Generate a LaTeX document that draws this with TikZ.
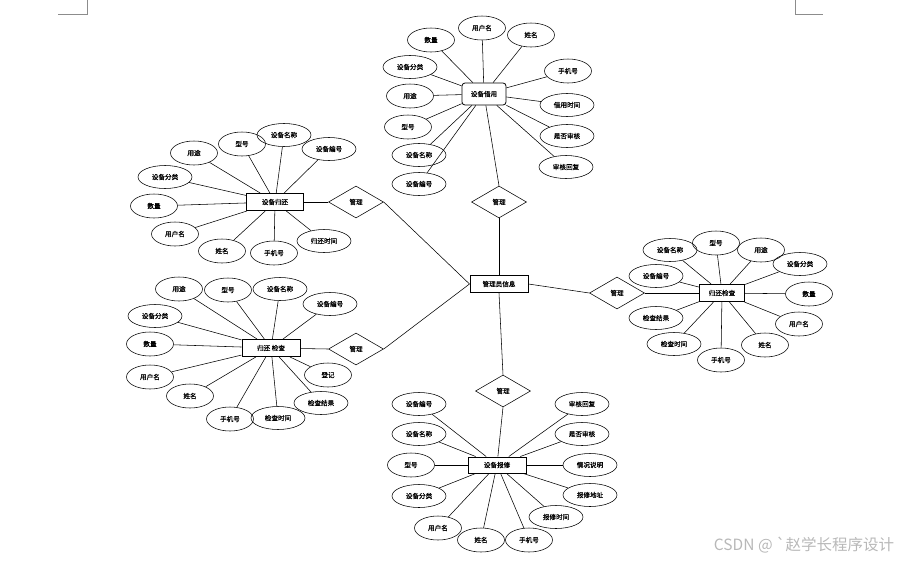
\documentclass[tikz,border=0pt]{standalone}
\usepackage{fontspec}
\newfontfamily\cjk{Noto Sans CJK SC}[FakeBold=0.6]
\newfontfamily\cjkw{Noto Sans CJK SC}
\usetikzlibrary{shapes.geometric}
\begin{document}
\begin{tikzpicture}[x=1pt,y=-1pt,
  line width=0.55pt,
  attr/.style={ellipse, draw, minimum width=47pt, minimum height=24pt, inner sep=0pt, font=\cjk\fontsize{6.6}{7}\selectfont},
  wattr/.style={attr, minimum width=54pt, minimum height=23pt},
  ent/.style={rectangle, draw, line width=1pt, minimum width=57pt, minimum height=17pt, inner sep=0pt, font=\cjk\fontsize{6.6}{7}\selectfont},
  rel/.style={diamond, draw, aspect=1.7, minimum width=55pt, minimum height=32pt, inner sep=0pt, font=\cjk\fontsize{6.6}{7}\selectfont},
  cornermark/.style={line width=0.5pt, draw=black!45}]
\useasboundingbox (0,0) rectangle (916,560);
% corner marks
\draw[cornermark] (58,14) -- (87,14) -- (87,0);
\draw[cornermark] (795,0) -- (795,14) -- (823,14);

% central
\node[ent, minimum width=58pt] (adm) at (499,284) {管理员信息};
\node[rel] (rt) at (499,202) {管理};
\node[rel] (rl1) at (356,202) {管理};
\node[rel] (rl2) at (356,349) {管理};
\node[rel] (rr) at (617,293) {管理};
\node[rel] (rb) at (503,391) {管理};

% top cluster
\node[rectangle, draw, rounded corners=3pt, line width=0.8pt, minimum width=44pt, minimum height=22pt, inner sep=0pt, font=\cjk\fontsize{6.6}{7}\selectfont] (tb) at (484,94) {设备借用};
\node[attr] (t1) at (431,40) {数量};
\node[attr] (t2) at (482,28) {用户名};
\node[attr] (t3) at (531,35) {姓名};
\node[wattr] (t4) at (410,67) {设备分类};
\node[attr] (t5) at (568,71) {手机号};
\node[attr] (t6) at (410,96) {用途};
\node[wattr] (t7) at (567,105) {借用时间};
\node[attr] (t8) at (408,127) {型号};
\node[wattr] (t9) at (567,136) {是否审核};
\node[wattr] (t10) at (419,155) {设备名称};
\node[wattr] (t11) at (566,167) {审核回复};
\node[wattr] (t12) at (419,184) {设备编号};
\foreach \n in {t1,t2,t3,t4,t5,t6,t7,t8,t9,t10,t11,t12} \draw (\n) -- (tb);

% left top cluster
\node[ent] (lb) at (275,202) {设备归还};
\node[attr] (l1) at (194,153) {用途};
\node[attr] (l2) at (242,144) {型号};
\node[wattr] (l3) at (284,135) {设备名称};
\node[wattr] (l4) at (329,149) {设备编号};
\node[wattr] (l5) at (165,177) {设备分类};
\node[attr] (l6) at (154,206) {数量};
\node[attr] (l7) at (175,234) {用户名};
\node[attr] (l8) at (222,251) {姓名};
\node[attr] (l9) at (274,253) {手机号};
\node[wattr] (l10) at (324,241) {归还时间};
\foreach \n in {l1,l2,l3,l4,l5,l6,l7,l8,l9,l10} \draw (\n) -- (lb);

% left bottom cluster
\node[ent, minimum width=58pt] (mb) at (271,348) {归还 检查};
\node[attr] (m1) at (179,289) {用途};
\node[attr] (m2) at (228,290) {型号};
\node[wattr] (m3) at (280,289) {设备名称};
\node[wattr] (m4) at (330,304) {设备编号};
\node[wattr] (m5) at (155,316) {设备分类};
\node[attr] (m6) at (150,344) {数量};
\node[attr] (m7) at (150,377) {用户名};
\node[attr] (m8) at (190,396) {姓名};
\node[attr] (m9) at (230,419) {手机号};
\node[wattr] (m10) at (278,418) {检查时间};
\node[wattr] (m11) at (321,403) {检查结果};
\node[attr] (m12) at (328,375) {登记};
\foreach \n in {m1,m2,m3,m4,m5,m6,m7,m8,m9,m10,m11,m12} \draw (\n) -- (mb);

% right cluster
\node[ent, minimum width=45pt] (rbx) at (722,293) {归还检查};
\node[wattr] (r1) at (670,250) {设备名称};
\node[attr] (r2) at (716,243) {型号};
\node[attr] (r3) at (761,250) {用途};
\node[wattr] (r4) at (800,264) {设备分类};
\node[wattr] (r5) at (656,276) {设备编号};
\node[attr] (r6) at (809,294) {数量};
\node[wattr] (r7) at (656,318) {检查结果};
\node[attr] (r8) at (799,324) {用户名};
\node[wattr] (r9) at (674,344) {检查时间};
\node[attr] (r10) at (765,345) {姓名};
\node[attr] (r11) at (721,360) {手机号};
\foreach \n in {r1,r2,r3,r4,r5,r6,r7,r8,r9,r10,r11} \draw (\n) -- (rbx);

% bottom cluster
\node[ent, minimum width=58pt, minimum height=16pt] (bb) at (497,465) {设备报修};
\node[wattr] (b1) at (419,404) {设备编号};
\node[wattr] (b2) at (582,404) {审核回复};
\node[wattr] (b3) at (419,434) {设备名称};
\node[wattr] (b4) at (582,434) {是否审核};
\node[attr] (b5) at (411,465) {型号};
\node[wattr] (b6) at (590,465) {情况说明};
\node[wattr] (b7) at (419,496) {设备分类};
\node[wattr] (b8) at (590,495) {报修地址};
\node[wattr] (b9) at (556,517) {报修时间};
\node[attr] (b10) at (438,528) {用户名};
\node[attr] (b11) at (481,540) {姓名};
\node[attr] (b12) at (529,540) {手机号};
\foreach \n in {b1,b2,b3,b4,b5,b6,b7,b8,b9,b10,b11,b12} \draw (\n) -- (bb);

% relationships
\draw (tb) -- (rt.north);
\draw (rt.south) -- (adm.north);
\draw (lb) -- (rl1.west);
\draw (rl1.east) -- (adm.west);
\draw (mb) -- (rl2.west);
\draw (rl2.east) -- (adm.west);
\draw (adm.east) -- (rr.west);
\draw (rr.east) -- (rbx);
\draw (adm.south) -- (rb.north);
\draw (rb.south) -- (bb);

% watermark
\node[font=\cjkw\fontsize{15.5}{17}\selectfont, text=black!28, inner sep=0pt] (wm) at (804,545) {CSDN @ `赵学长程序设计};
\end{tikzpicture}
\end{document}
